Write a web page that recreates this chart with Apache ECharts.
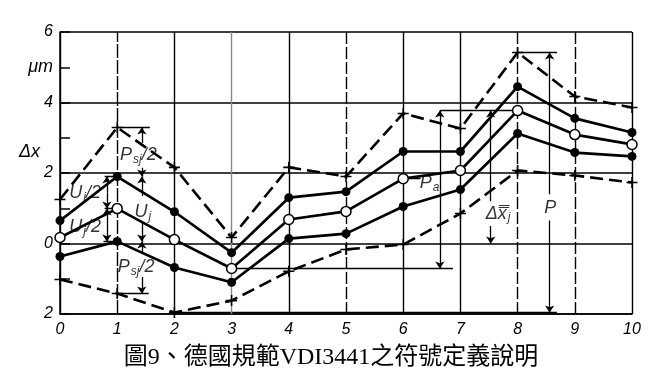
<!DOCTYPE html>
<html><head><meta charset="utf-8">
<script src="https://cdn.jsdelivr.net/npm/echarts@6/dist/echarts.min.js"></script>
<style>html,body{margin:0;padding:0;background:#fff}#c{width:652px;height:378px}</style>
</head><body><div id="c"></div>
<script>
// ---- data ----
const xValues    = [0,1,2,3,4,5,6,7,8,9,10];
const upperLimit = [1.25,3.29,2.16,0.17,2.16,1.90,3.69,3.26,5.42,4.17,3.86];
const upperRange = [0.65,1.90,0.90,-0.26,1.30,1.47,2.61,2.61,4.45,3.55,3.15];
const meanValues = [0.17,0.99,0.11,-0.71,0.68,0.91,1.84,2.07,3.77,3.09,2.81];
const lowerRange = [-0.37,0.06,-0.68,-1.10,0.14,0.28,1.05,1.53,3.12,2.58,2.47];
const lowerLimit = [-1.02,-1.42,-1.96,-1.62,-0.79,-0.17,-0.03,0.85,2.07,1.93,1.73];
const yMajorLabels = {'6':'6','4':'4','2':'2','0':'0','-2':'2'};
const yMinorLabels = {'5':'μm','3':'Δx'};
const xTickLabels = ['0','1','2','3','4','5','6','7','8','9','10'];
const titleText = '圖9、德國規範VDI3441之符號定義說明';

// ---- helpers ----
const pair = a => xValues.map((x,i)=>[x,a[i]]);
const U1 = upperLimit[1], R1 = upperRange[1], M1 = meanValues[1], L1 = lowerRange[1], LL1 = lowerLimit[1];
const mMax = Math.max(...meanValues), mMin = Math.min(...meanValues);
const xMMax = xValues[meanValues.indexOf(mMax)], xMMin = xValues[meanValues.indexOf(mMin)];
const pMax = Math.max(...upperLimit), pMin = Math.min(...lowerLimit);
const xPMax = xValues[upperLimit.indexOf(pMax)], xPMin = xValues[lowerLimit.indexOf(pMin)];

const plainSegs = [
  [[1,U1],[1.57,U1]],
  [[1,LL1],[1.55,LL1]],
  [[0.78,R1],[1,R1]],[[0.78,M1],[1,M1]],[[0.76,L1],[1,L1]],
  [[6.64,mMax],[xMMax,mMax]],
  [[xMMin,mMin],[6.87,mMin]],
  [[6,meanValues[6]],[6.3,meanValues[6]]],
  [[xPMax,pMax],[8.69,pMax]],
  [[xPMin,pMin],[8.69,pMin]]
];
const arrowSegs = [
  [[1.43,2.85],[1.43,U1]],
  [[1.43,2.15],[1.43,R1]],
  [[1.43,1.35],[1.43,R1]],
  [[1.43,0.6],[1.43,L1]],
  [[1.43,-0.25],[1.43,L1]],
  [[1.43,-0.95],[1.43,LL1]],
  [[0.82,(R1+M1)/2],[0.82,R1]],
  [[0.82,(R1+M1)/2],[0.82,M1]],
  [[0.82,(M1+L1)/2],[0.82,M1]],
  [[0.82,(M1+L1)/2],[0.82,L1]],
  [[6.64,1.5],[6.64,mMax]],
  [[6.64,1.5],[6.64,mMin]],
  [[7.53,1.2],[7.53,mMax]],
  [[7.53,0.5],[7.53,0]],
  [[8.56,1.4],[8.56,pMax]],
  [[8.56,0.65],[8.56,pMin]]
];
const labels = [
  {value:[1.37,2.5],  t:'{i|P}{s|sj}{i|/2}'},
  {value:[0.44,1.42], t:'{i|U}{s|j}{i|/2}'},
  {value:[0.44,0.47], t:'{i|U}{s|j}{i|/2}'},
  {value:[1.45,0.9],  t:'{i|U}{s|j}'},
  {value:[1.33,-0.66],t:'{i|P}{s|sj}{i|/2}'},
  {value:[6.46,1.72], t:'{i|P}{s|a}'},
  {value:[7.66,0.85], t:'{i|Δx\u033F}{s|j}'},
  {value:[8.57,1.0],  t:'{i|P}'}
];
const vGrid = [
  {x:0,t:'solid',c:'#000'},{x:1,t:[14,2],c:'#000'},{x:2,t:'solid',c:'#000'},
  {x:3,t:'solid',c:'#888'},{x:4,t:'solid',c:'#000'},{x:5,t:[12,3],c:'#000'},
  {x:6,t:'solid',c:'#000'},{x:7,t:'solid',c:'#000'},{x:8,t:[12,3],c:'#000'},
  {x:9,t:[12,3],c:'#000'},{x:10,t:'solid',c:'#000'}
];

const chart = echarts.init(document.getElementById('c'), null, {renderer:'canvas'});
const ital = {fontStyle:'italic', fontFamily:'Liberation Sans', color:'#000'};
const plusPath = 'path://M4.3,0H5.7V10H4.3ZM0,4.3H10V5.7H0Z';
const dashStyle = {color:'#000', width:2.6, type:[13,6]};
const solidStyle = {color:'#000', width:2.7};

chart.setOption({
  animation:false,
  backgroundColor:'#fff',
  grid:{left:60,right:20,top:32,bottom:64},
  xAxis:{type:'value',min:0,max:10,interval:1,
    axisLine:{show:true,onZero:false,lineStyle:{color:'#000',width:1.5}},
    axisTick:{show:false},splitLine:{show:false},
    axisLabel:Object.assign({fontSize:16,margin:8,formatter:v=>xTickLabels[v]},ital)},
  yAxis:[
    {type:'value',min:-2,max:6,interval:2,
      axisLine:{show:true,lineStyle:{color:'#000',width:1.5}},
      axisTick:{show:false},
      splitLine:{show:true,lineStyle:{color:'#000',width:1.5}},
      axisLabel:Object.assign({fontSize:16,margin:7,formatter:v=>yMajorLabels[String(v)]||''},ital)},
    {type:'value',min:-2,max:6,interval:1,position:'left',
      axisLine:{show:false},
      axisTick:{show:true,inside:true,length:10,lineStyle:{color:'#000',width:1.5}},
      splitLine:{show:false},
      axisLabel:{margin:7,formatter:v=>{const s=yMinorLabels[String(v)];return s?(v===3?'{d|'+s+'}':'{u|'+s+'}'):'';},
        rich:{u:Object.assign({fontSize:18},ital),d:Object.assign({fontSize:18,padding:[28,13,0,0]},ital)}}}
  ],
  graphic:[{type:'text',x:331,y:358,style:{text:titleText,textAlign:'center',textVerticalAlign:'middle',
    font:'24px "Liberation Serif","Noto Sans CJK TC"',fill:'#000'}}],
  series:[
    {type:'line',data:[],silent:true,
      markLine:{silent:true,symbol:'none',label:{show:false},
        data:vGrid.map(g=>({xAxis:g.x,lineStyle:{color:g.c,width:1.4,type:g.t}}))}},
    {type:'line',data:pair(upperLimit),lineStyle:dashStyle,symbol:plusPath,symbolSize:11,itemStyle:{color:'#000'},z:5},
    {type:'line',data:pair(upperRange),lineStyle:solidStyle,symbol:'circle',symbolSize:9,itemStyle:{color:'#000'},z:6},
    {type:'line',data:pair(meanValues),lineStyle:solidStyle,symbol:'circle',symbolSize:10,
      itemStyle:{color:'#fff',borderColor:'#000',borderWidth:1.5},z:7},
    {type:'line',data:pair(lowerRange),lineStyle:solidStyle,symbol:'circle',symbolSize:9,itemStyle:{color:'#000'},z:6},
    {type:'line',data:pair(lowerLimit),lineStyle:dashStyle,symbol:plusPath,symbolSize:11,itemStyle:{color:'#000'},z:5},
    {type:'lines',coordinateSystem:'cartesian2d',symbol:'none',lineStyle:{color:'#000',width:1.3,opacity:1},
      data:plainSegs.map(c=>({coords:c})),z:4},
    {type:'lines',coordinateSystem:'cartesian2d',symbol:['none','arrow'],symbolSize:7,lineStyle:{color:'#000',width:1.3,opacity:1},
      data:arrowSegs.map(c=>({coords:c})),z:4},
    {type:'scatter',symbolSize:0,silent:true,z:10,
      data:labels.map(l=>({value:l.value,label:{show:true,position:'inside',formatter:l.t,
        rich:{i:Object.assign({fontSize:18},ital),s:Object.assign({fontSize:12,padding:[9,0,0,1]},ital)}}}))}
  ]
});
</script></body></html>
